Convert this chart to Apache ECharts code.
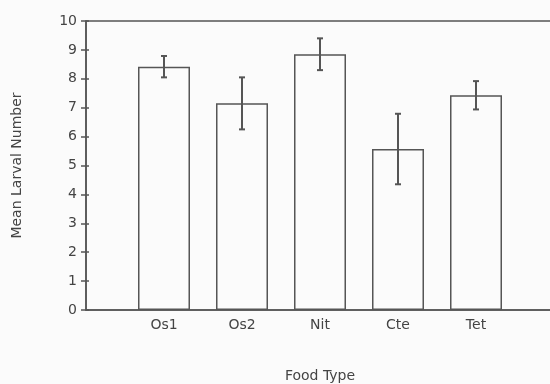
<!DOCTYPE html>
<html>
<head>
<meta charset="utf-8">
<script src="https://cdn.jsdelivr.net/npm/echarts@6/dist/echarts.min.js"></script>
<style>
html,body{margin:0;padding:0;background:#fbfbfb;}
#chart{width:550px;height:384px;}
</style>
</head>
<body>
<div id="chart"></div>
<script>
var categories = ['Os1', 'Os2', 'Nit', 'Cte', 'Tet'];
var means = [8.42, 7.15, 8.85, 5.57, 7.43];
var errors = [0.37, 0.9, 0.55, 1.22, 0.49];
var yTicks = [0, 1, 2, 3, 4, 5, 6, 7, 8, 9, 10];

var barData = categories.map(function (c, i) { return [i + 1, means[i]]; });
var errData = categories.map(function (c, i) { return [i + 1, means[i] - errors[i], means[i] + errors[i]]; });

var lineColor = '#555';
var textColor = '#444';
var font = 'DejaVu Sans';

var chart = echarts.init(document.getElementById('chart'));
chart.setOption({
  backgroundColor: '#fbfbfb',
  animation: false,
  grid: {
    left: 86, top: 21, width: 468, height: 289,
    outerBoundsMode: 'none', containLabel: false,
    show: true, borderColor: lineColor, borderWidth: 1.5, backgroundColor: 'transparent'
  },
  xAxis: {
    type: 'value', min: 0, max: 6, interval: 1,
    name: 'Food Type', nameLocation: 'middle', nameGap: 59,
    nameTextStyle: { color: textColor, fontFamily: font, fontSize: 14 },
    axisLine: { show: true, lineStyle: { color: lineColor, width: 1.5 } },
    axisTick: { show: false },
    splitLine: { show: false },
    axisLabel: {
      color: textColor, fontFamily: font, fontSize: 14, margin: 8,
      formatter: function (v) { return categories[v - 1] || ''; }
    }
  },
  yAxis: [{
    type: 'value', min: 0, max: 10, interval: 1,
    name: 'Mean Larval Number', nameLocation: 'middle', nameGap: 62,
    nameTextStyle: { color: textColor, fontFamily: font, fontSize: 14 },
    axisLine: { show: true, lineStyle: { color: lineColor, width: 1.5 } },
    axisTick: { show: true, length: 5, lineStyle: { color: lineColor, width: 1.5 } },
    splitLine: { show: false },
    axisLabel: {
      color: textColor, fontFamily: font, fontSize: 14, margin: 9,
      formatter: function (v) { return yTicks.indexOf(v) >= 0 ? String(v) : ''; }
    }
  }, {
    type: 'value', min: 0, max: 10, interval: 1, position: 'left',
    axisLine: { show: false },
    axisTick: { show: true, inside: true, length: 3, lineStyle: { color: lineColor, width: 1.5 } },
    axisLabel: { show: false },
    splitLine: { show: false }
  }],
  series: [{
    type: 'bar',
    data: barData,
    barWidth: 52,
    itemStyle: { color: 'rgba(255,255,255,0)', borderColor: lineColor, borderWidth: 1.5 },
    silent: true
  }, {
    type: 'custom',
    data: errData,
    renderItem: function (params, api) {
      var x = api.value(0);
      var lo = api.coord([x, api.value(1)]);
      var hi = api.coord([x, api.value(2)]);
      var hw = 3;
      var style = { stroke: lineColor, lineWidth: 2 };
      return {
        type: 'group',
        children: [
          { type: 'line', shape: { x1: lo[0], y1: lo[1], x2: hi[0], y2: hi[1] }, style: style },
          { type: 'line', shape: { x1: lo[0] - hw, y1: lo[1], x2: lo[0] + hw, y2: lo[1] }, style: style },
          { type: 'line', shape: { x1: hi[0] - hw, y1: hi[1], x2: hi[0] + hw, y2: hi[1] }, style: style }
        ]
      };
    },
    z: 5
  }]
});
</script>
</body>
</html>
